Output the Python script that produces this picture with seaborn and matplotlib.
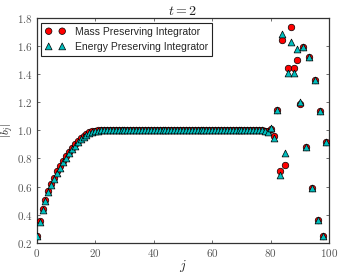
import numpy as np
import pandas as pd
import seaborn as sns
import matplotlib
matplotlib.use("Agg")
import matplotlib.pyplot as plt
from matplotlib.ticker import FixedLocator, StrMethodFormatter

# ---- data -------------------------------------------------------------
j = list(range(100))

mass = [
    0.250, 0.355, 0.437, 0.505, 0.565, 0.616, 0.663, 0.707, 0.746, 0.783,
    0.817, 0.849, 0.877, 0.902, 0.925, 0.945, 0.962, 0.976, 0.986, 0.993,
    0.997, 1.000, 1.000, 1.000, 1.000, 1.000, 1.000, 1.000, 1.000, 1.000,
    1.000, 1.000, 1.000, 1.000, 1.000, 1.000, 1.000, 1.000, 1.000, 1.000,
    1.000, 1.000, 1.000, 1.000, 1.000, 1.000, 1.000, 1.000, 1.000, 1.000,
    1.000, 1.000, 1.000, 1.000, 1.000, 1.000, 1.000, 1.000, 1.000, 1.000,
    1.000, 1.000, 1.000, 1.000, 1.000, 1.000, 1.000, 1.000, 1.000, 1.000,
    1.000, 1.000, 1.000, 1.000, 1.000, 1.000, 1.000, 1.000, 0.998, 0.995,
    1.010, 0.957, 1.147, 0.710, 1.644, 0.756, 1.447, 1.738, 1.447, 1.500,
    1.190, 1.592, 0.879, 1.520, 0.590, 1.360, 0.360, 1.135, 0.247, 0.914,
]

energy = [
    0.245, 0.350, 0.432, 0.500, 0.558, 0.608, 0.653, 0.697, 0.735, 0.772,
    0.805, 0.837, 0.865, 0.891, 0.915, 0.936, 0.955, 0.970, 0.982, 0.990,
    0.995, 0.998, 1.000, 1.000, 1.000, 1.000, 1.000, 1.000, 1.000, 1.000,
    1.000, 1.000, 1.000, 1.000, 1.000, 1.000, 1.000, 1.000, 1.000, 1.000,
    1.000, 1.000, 1.000, 1.000, 1.000, 1.000, 1.000, 1.000, 1.000, 1.000,
    1.000, 1.000, 1.000, 1.000, 1.000, 1.000, 1.000, 1.000, 1.000, 1.000,
    1.000, 1.000, 1.000, 1.000, 1.000, 1.000, 1.000, 1.000, 1.000, 1.000,
    1.000, 1.000, 1.000, 1.000, 1.000, 1.000, 1.000, 1.000, 0.995, 0.990,
    1.018, 0.945, 1.147, 0.680, 1.684, 0.839, 1.407, 1.632, 1.407, 1.580,
    1.200, 1.592, 0.879, 1.520, 0.590, 1.360, 0.360, 1.135, 0.247, 0.914,
]

series_names = ["Mass Preserving Integrator", "Energy Preserving Integrator"]
x_ticks = [0, 20, 40, 60, 80, 100]
y_ticks = [0.2, 0.4, 0.6, 0.8, 1.0, 1.2, 1.4, 1.6, 1.8]

# ---- style ------------------------------------------------------------
sns.set_style("ticks")
plt.rcParams["font.family"] = ["Liberation Sans", "DejaVu Sans"]
plt.rcParams["mathtext.fontset"] = "cm"

fig = plt.figure(figsize=(3.41, 2.76), dpi=100)
ax = fig.add_axes([0.1076, 0.1207, 0.858, 0.8141])

df_mass = pd.DataFrame({"j": j, "b": mass})
df_energy = pd.DataFrame({"j": j, "b": energy})

sns.scatterplot(data=df_mass, x="j", y="b", marker="o", color="#ff0000",
                edgecolor="black", linewidth=0.5, s=22, ax=ax,
                label=series_names[0], zorder=3)
sns.scatterplot(data=df_energy, x="j", y="b", marker="^", color="#00bfbf",
                edgecolor="black", linewidth=0.5, s=24, ax=ax,
                label=series_names[1], zorder=4)

ax.set_xlim(0, 100)
ax.set_ylim(0.2, 1.8)
ax.xaxis.set_major_locator(FixedLocator(x_ticks))
ax.yaxis.set_major_locator(FixedLocator(y_ticks))
ax.xaxis.set_major_formatter(StrMethodFormatter("${x:.0f}$"))
ax.yaxis.set_major_formatter(StrMethodFormatter("${x:.1f}$"))
ax.tick_params(direction="in", length=2.5, width=0.6, top=True, right=True,
               labelsize=8, colors="#555555", pad=3)
ax.tick_params(axis="both", which="both", color="#555555")
for sp in ax.spines.values():
    sp.set_visible(True)
    sp.set_color("#333333")
    sp.set_linewidth(0.9)

ax.set_xlabel("$j$", fontsize=10, color="#222222")
ax.xaxis.set_label_coords(0.5, -0.066)
ax.set_ylabel("$|b_j|$", fontsize=8, color="#222222")
ax.yaxis.set_label_coords(-0.07, 0.5)
ax.set_title("$t=2$", fontsize=10, pad=2, color="#222222")

leg = ax.legend(loc="upper left", scatterpoints=2, scatteryoffsets=[0.5],
                prop={"family": ["Liberation Sans", "DejaVu Sans"], "size": 7.5},
                frameon=True, fancybox=False,
                borderpad=0.4, handletextpad=0.9, labelspacing=0.5,
                borderaxespad=0.45, handlelength=1.9)
leg.get_frame().set_edgecolor("#222222")
leg.get_frame().set_linewidth(0.8)
leg.get_frame().set_alpha(1.0)

fig.savefig("out.png", dpi=100)
